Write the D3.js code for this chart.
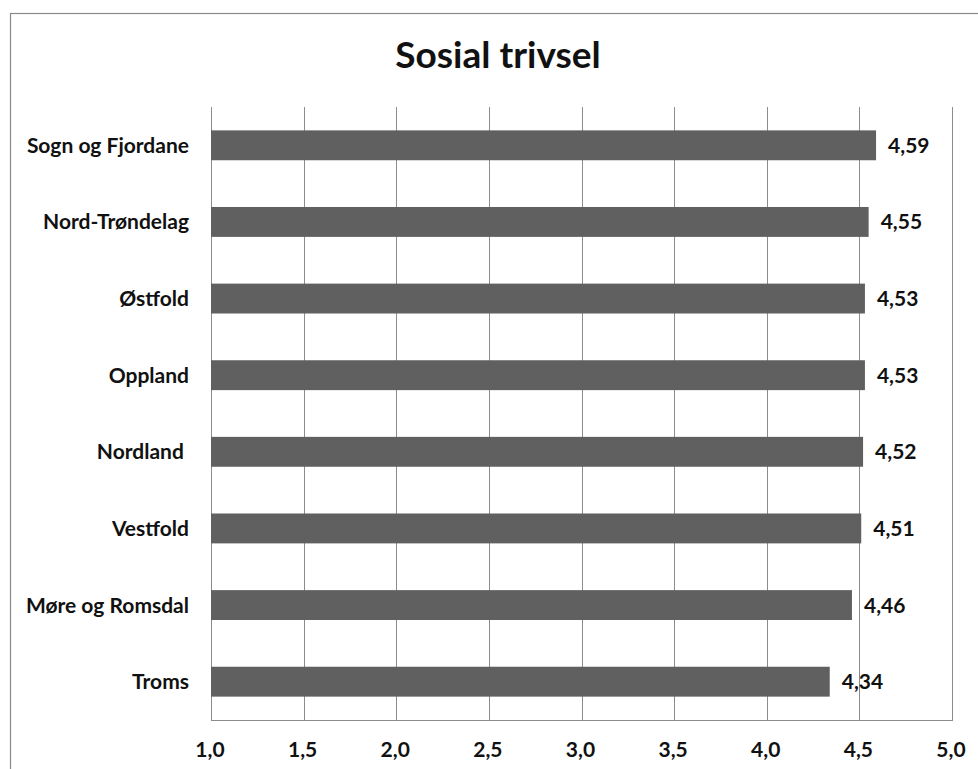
<!DOCTYPE html>
<html>
<head>
<meta charset="utf-8">
<script src="https://cdn.jsdelivr.net/npm/d3@7"></script>
<style>
  html, body { margin: 0; padding: 0; background: #fff; }
  svg { display: block; font-family: Lato, "Open Sans", sans-serif; }
</style>
</head>
<body>
<svg id="chart" width="978" height="769"></svg>
<script>
// Sosial trivsel per fylke (gjennomsnitt, skala 1–5)
const title = "Sosial trivsel";
const categories = [
  "Sogn og Fjordane",
  "Nord-Trøndelag",
  "Østfold",
  "Oppland",
  "Nordland ",
  "Vestfold",
  "Møre og Romsdal",
  "Troms"
];
const values = [4.59, 4.55, 4.53, 4.53, 4.52, 4.51, 4.46, 4.34];
const xTicks = [1.0, 1.5, 2.0, 2.5, 3.0, 3.5, 4.0, 4.5, 5.0];
const xDomain = [1, 5];

const nb = d3.formatLocale({ decimal: ",", thousands: " ", grouping: [3], currency: ["", " kr"] });
const fmtTick = nb.format(".1f");
const fmtVal = nb.format(".2f");

const svg = d3.select("#chart");
const W = 978, H = 769;
const plot = { left: 211, right: 952, top: 107, bottom: 720 };

const x = d3.scaleLinear().domain(xDomain).range([plot.left, plot.right]);
const y = d3.scaleBand()
  .domain(categories)
  .range([plot.top, plot.bottom])
  .paddingInner(0.61)
  .paddingOuter(0.305);

// chart frame
svg.append("rect")
  .attr("x", 10.5).attr("y", 13.5)
  .attr("width", W + 10).attr("height", H + 10)
  .attr("fill", "#fff")
  .attr("stroke", "#8a8a8a").attr("stroke-width", 1.2);

// title
svg.append("text")
  .attr("x", 498).attr("y", 68)
  .attr("text-anchor", "middle")
  .attr("font-size", 37).attr("font-weight", 700)
  .attr("fill", "#111")
  .text(title);

// vertical gridlines
svg.append("g").selectAll("line")
  .data(xTicks)
  .join("line")
  .attr("x1", d => Math.round(x(d)) + 0.5)
  .attr("x2", d => Math.round(x(d)) + 0.5)
  .attr("y1", plot.top).attr("y2", plot.bottom)
  .attr("stroke", "#8c8c8c").attr("stroke-width", 1);

// bottom axis line
svg.append("line")
  .attr("x1", plot.left).attr("x2", plot.right + 1)
  .attr("y1", plot.bottom + 0.5).attr("y2", plot.bottom + 0.5)
  .attr("stroke", "#8c8c8c").attr("stroke-width", 1);

// bars
svg.append("g").selectAll("rect")
  .data(categories)
  .join("rect")
  .attr("x", x(xDomain[0]))
  .attr("y", d => y(d))
  .attr("width", (d, i) => x(values[i]) - x(xDomain[0]))
  .attr("height", y.bandwidth())
  .attr("fill", "#606060");

// value labels
svg.append("g").selectAll("text")
  .data(categories)
  .join("text")
  .attr("x", (d, i) => x(values[i]) + 12)
  .attr("y", d => y(d) + y.bandwidth() / 2)
  .attr("dy", "0.36em")
  .attr("font-size", 21).attr("font-weight", 700)
  .attr("fill", "#111")
  .text((d, i) => fmtVal(values[i]));

// category labels
svg.append("g").selectAll("text")
  .data(categories)
  .join("text")
  .attr("x", 189)
  .attr("y", d => y(d) + y.bandwidth() / 2)
  .attr("dy", "0.36em")
  .attr("text-anchor", "end")
  .style("white-space", "pre")
  .attr("font-size", 21).attr("font-weight", 700)
  .attr("fill", "#111")
  .text(d => d);

// x tick labels
svg.append("g").selectAll("text")
  .data(xTicks)
  .join("text")
  .attr("x", d => x(d) - 1)
  .attr("y", 757)
  .attr("text-anchor", "middle")
  .attr("font-size", 21).attr("font-weight", 700)
  .attr("fill", "#111")
  .text(d => fmtTick(d));
</script>
</body>
</html>
